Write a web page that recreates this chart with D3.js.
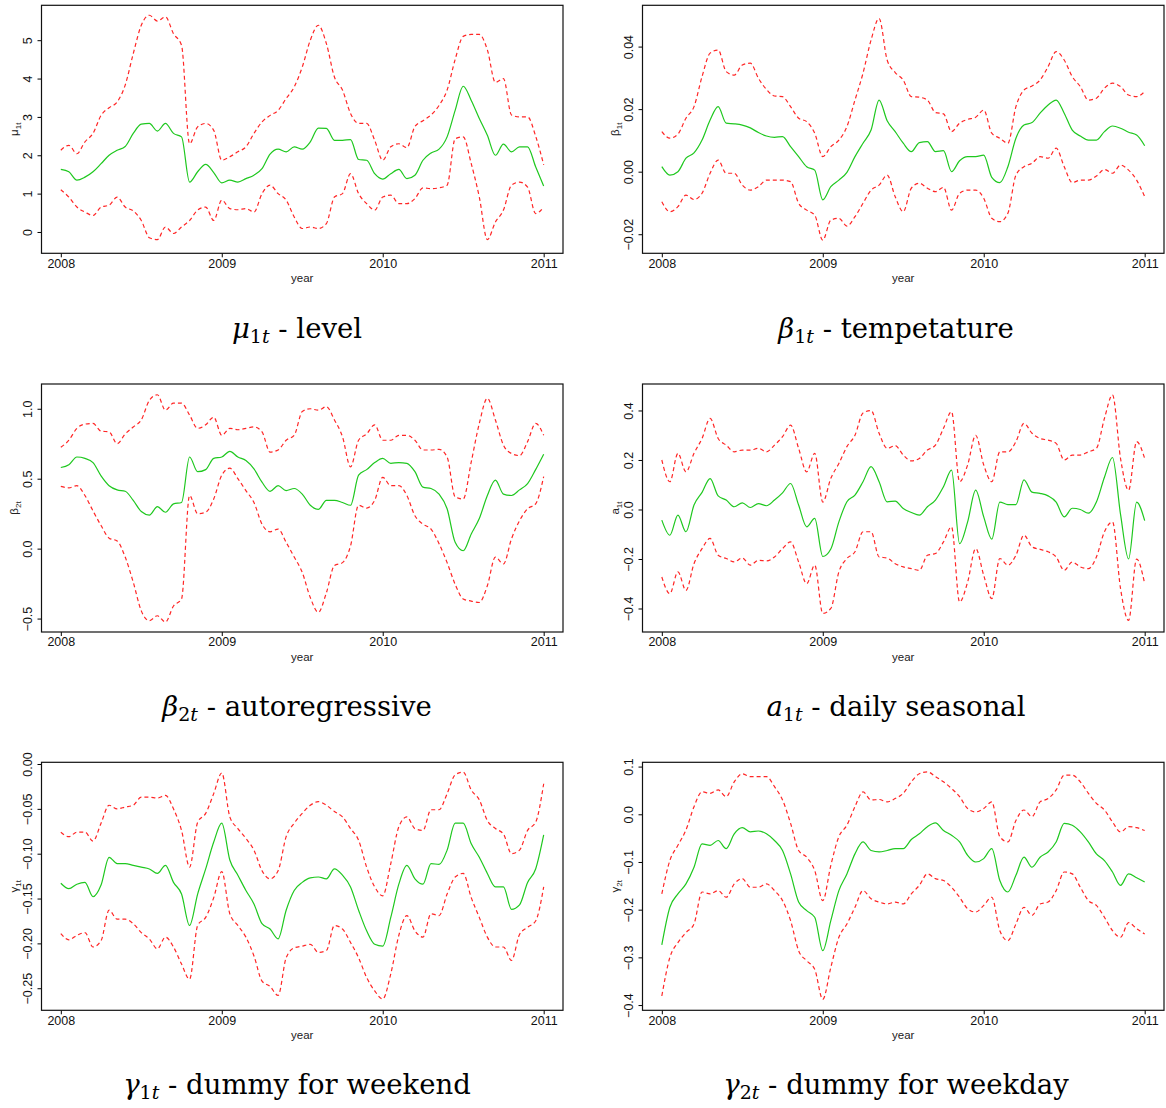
<!DOCTYPE html>
<html>
<head>
<meta charset="utf-8">
<script src="https://cdn.jsdelivr.net/npm/d3@7"></script>
<style>
  body { margin: 0; background: #fff; }
  svg { display: block; }
</style>
</head>
<body>
<svg id="fig" width="1166" height="1108"></svg>
<script>
// time grid shared by every panel (step of 0.05 year)
const years = [2008.00,2008.05,2008.10,2008.15,2008.20,2008.25,2008.30,2008.35,2008.40,2008.45,
  2008.50,2008.55,2008.60,2008.65,2008.70,2008.75,2008.80,2008.85,2008.90,2008.95,
  2009.00,2009.05,2009.10,2009.15,2009.20,2009.25,2009.30,2009.35,2009.40,2009.45,
  2009.50,2009.55,2009.60,2009.65,2009.70,2009.75,2009.80,2009.85,2009.90,2009.95,
  2010.00,2010.05,2010.10,2010.15,2010.20,2010.25,2010.30,2010.35,2010.40,2010.45,
  2010.50,2010.55,2010.60,2010.65,2010.70,2010.75,2010.80,2010.85,2010.90,2010.95,2011.00];
const yearTicks = [2008, 2009, 2010, 2011];

// mu_1t - level
const muMean = [1.63,1.57,1.35,1.43,1.57,1.78,2.00,2.13,2.23,2.57,2.81,2.83,2.63,2.83,2.57,2.48,
  1.30,1.57,1.76,1.55,1.28,1.35,1.30,1.39,1.48,1.65,2.03,2.16,2.09,2.22,2.16,2.35,
  2.71,2.70,2.39,2.39,2.41,1.89,1.87,1.52,1.38,1.52,1.63,1.39,1.48,1.87,2.06,2.16,
  2.48,3.17,3.80,3.43,2.96,2.52,2.00,2.29,2.09,2.22,2.22,1.70,1.20];
const muUpper = [2.13,2.26,2.04,2.35,2.57,3.04,3.24,3.39,3.83,4.65,5.39,5.65,5.50,5.61,5.17,4.87,
  2.30,2.74,2.83,2.65,1.87,1.96,2.09,2.22,2.57,2.87,3.04,3.17,3.48,3.78,4.30,5.00,
  5.39,4.91,4.04,3.70,3.09,2.83,2.83,2.39,1.87,2.22,2.30,2.20,2.75,2.90,3.05,3.30,
  3.70,4.50,5.10,5.15,5.15,4.75,3.90,4.00,3.05,3.00,3.00,2.50,1.75];
const muLower = [1.10,0.91,0.65,0.52,0.43,0.65,0.70,0.91,0.65,0.55,0.30,-0.15,-0.20,0.13,-0.04,0.13,
  0.30,0.57,0.65,0.30,0.83,0.61,0.58,0.61,0.52,1.00,1.22,1.00,0.83,0.39,0.09,0.13,
  0.09,0.22,0.91,1.00,1.52,1.00,0.74,0.57,0.91,0.96,0.74,0.74,0.87,1.15,1.13,1.15,
  1.22,2.43,2.48,1.78,0.91,-0.20,0.26,0.57,1.22,1.30,1.17,0.48,0.65];
const muTicks = [0, 1, 2, 3, 4, 5];

// beta_1t - temperature
const b1Mean = [0.0016,-0.0011,0.0000,0.0043,0.0060,0.0101,0.0165,0.0208,0.0155,0.0153,0.0149,0.0140,0.0125,0.0114,0.0110,0.0112,
  0.0080,0.0048,0.0016,0.0005,-0.0090,-0.0048,-0.0027,-0.0002,0.0048,0.0091,0.0133,0.0229,0.0163,0.0128,0.0091,0.0064,
  0.0093,0.0096,0.0064,0.0067,0.0000,0.0035,0.0048,0.0048,0.0053,-0.0018,-0.0035,0.0016,0.0107,0.0149,0.0157,0.0187,
  0.0213,0.0229,0.0187,0.0133,0.0114,0.0101,0.0101,0.0128,0.0146,0.0139,0.0126,0.0117,0.0083];
const b1Upper = [0.0128,0.0107,0.0120,0.0171,0.0208,0.0304,0.0379,0.0389,0.0320,0.0309,0.0341,0.0347,0.0299,0.0263,0.0242,0.0240,
  0.0208,0.0171,0.0160,0.0123,0.0048,0.0080,0.0101,0.0144,0.0229,0.0315,0.0421,0.0490,0.0357,0.0317,0.0293,0.0240,
  0.0238,0.0229,0.0189,0.0185,0.0128,0.0155,0.0167,0.0174,0.0197,0.0123,0.0107,0.0091,0.0208,0.0261,0.0274,0.0293,
  0.0336,0.0384,0.0357,0.0304,0.0272,0.0229,0.0235,0.0267,0.0283,0.0272,0.0245,0.0240,0.0256];
const b1Lower = [-0.0096,-0.0128,-0.0112,-0.0075,-0.0089,-0.0069,-0.0005,0.0037,-0.0005,-0.0005,-0.0043,-0.0059,-0.0048,-0.0027,-0.0027,-0.0027,
  -0.0032,-0.0101,-0.0123,-0.0139,-0.0219,-0.0155,-0.0149,-0.0174,-0.0144,-0.0101,-0.0059,-0.0043,-0.0011,-0.0080,-0.0128,-0.0053,
  -0.0037,-0.0053,-0.0064,-0.0050,-0.0123,-0.0069,-0.0059,-0.0059,-0.0085,-0.0149,-0.0160,-0.0133,-0.0011,0.0016,0.0027,0.0048,
  0.0043,0.0075,0.0016,-0.0035,-0.0027,-0.0027,-0.0014,0.0007,-0.0005,0.0021,0.0005,-0.0027,-0.0080];
const b1Ticks = [-0.02, 0, 0.02, 0.04];

// beta_2t - autoregressive
const b2Mean = [0.58,0.60,0.655,0.645,0.615,0.52,0.45,0.42,0.41,0.345,0.265,0.24,0.30,0.26,0.32,0.33,
  0.655,0.55,0.565,0.645,0.655,0.695,0.655,0.63,0.57,0.475,0.41,0.45,0.415,0.43,0.39,0.31,
  0.28,0.345,0.345,0.33,0.31,0.525,0.565,0.615,0.645,0.61,0.615,0.61,0.55,0.44,0.43,0.39,
  0.285,0.045,-0.015,0.105,0.215,0.38,0.49,0.39,0.38,0.42,0.465,0.565,0.675];
const b2Upper = [0.725,0.775,0.86,0.89,0.895,0.84,0.835,0.75,0.82,0.87,0.92,1.06,1.10,0.99,1.04,1.04,
  0.955,0.86,0.885,0.94,0.81,0.86,0.85,0.86,0.87,0.835,0.69,0.705,0.775,0.81,0.98,1.00,
  0.99,1.015,0.92,0.80,0.585,0.775,0.82,0.885,0.775,0.775,0.81,0.81,0.775,0.705,0.705,0.71,
  0.655,0.37,0.355,0.62,0.895,1.075,0.92,0.74,0.68,0.665,0.765,0.895,0.81];
const b2Lower = [0.445,0.435,0.45,0.38,0.27,0.165,0.075,0.055,-0.06,-0.24,-0.445,-0.515,-0.48,-0.525,-0.41,-0.36,
  0.38,0.25,0.26,0.355,0.525,0.575,0.50,0.415,0.33,0.175,0.12,0.14,0.045,-0.06,-0.17,-0.35,
  -0.455,-0.315,-0.12,-0.10,0.02,0.31,0.29,0.345,0.51,0.45,0.45,0.38,0.235,0.175,0.14,0.035,
  -0.10,-0.255,-0.36,-0.375,-0.385,-0.265,-0.06,-0.11,0.07,0.20,0.285,0.32,0.515];
const b2Ticks = [-0.5, 0, 0.5, 1.0];

// a_1t - daily seasonal
const a1Mean = [-0.043,-0.104,-0.023,-0.090,0.018,0.069,0.125,0.055,0.038,0.011,0.027,0.008,0.024,0.015,0.038,0.067,
  0.105,0.018,-0.070,-0.036,-0.190,-0.160,-0.050,0.031,0.058,0.112,0.173,0.112,0.031,0.034,0.004,-0.012,
  -0.023,0.011,0.038,0.092,0.159,-0.138,-0.050,0.078,-0.030,-0.120,0.030,0.020,0.020,0.120,0.070,0.065,
  0.055,0.030,-0.030,0.005,0.000,-0.015,0.030,0.130,0.210,-0.020,-0.200,0.030,-0.045];
const a1Upper = [0.200,0.112,0.227,0.152,0.227,0.287,0.368,0.287,0.260,0.233,0.240,0.240,0.247,0.233,0.260,0.294,
  0.341,0.247,0.152,0.227,0.030,0.126,0.186,0.254,0.300,0.390,0.400,0.308,0.247,0.258,0.220,0.196,
  0.206,0.240,0.260,0.328,0.395,0.112,0.180,0.300,0.180,0.112,0.233,0.233,0.274,0.348,0.308,0.287,
  0.280,0.267,0.200,0.220,0.220,0.233,0.247,0.368,0.463,0.206,0.078,0.274,0.206];
const a1Lower = [-0.273,-0.340,-0.252,-0.327,-0.219,-0.158,-0.117,-0.185,-0.198,-0.212,-0.196,-0.225,-0.205,-0.208,-0.192,-0.158,
  -0.131,-0.212,-0.300,-0.225,-0.420,-0.400,-0.252,-0.198,-0.171,-0.090,-0.090,-0.192,-0.196,-0.219,-0.232,-0.239,
  -0.246,-0.185,-0.178,-0.131,-0.070,-0.374,-0.293,-0.158,-0.266,-0.360,-0.198,-0.225,-0.185,-0.104,-0.151,-0.161,
  -0.171,-0.192,-0.246,-0.212,-0.232,-0.239,-0.192,-0.090,-0.050,-0.320,-0.448,-0.200,-0.300];
const a1Ticks = [-0.4, -0.2, 0, 0.2, 0.4];

// gamma_1t - dummy for weekend
const g1Mean = [-0.133,-0.139,-0.134,-0.132,-0.148,-0.135,-0.104,-0.111,-0.111,-0.113,-0.115,-0.117,-0.122,-0.113,-0.132,-0.145,
  -0.180,-0.145,-0.117,-0.087,-0.066,-0.107,-0.124,-0.141,-0.156,-0.178,-0.184,-0.195,-0.163,-0.141,-0.132,-0.127,
  -0.126,-0.128,-0.117,-0.124,-0.137,-0.163,-0.186,-0.201,-0.203,-0.171,-0.134,-0.113,-0.128,-0.134,-0.111,-0.112,
  -0.096,-0.066,-0.066,-0.089,-0.104,-0.122,-0.137,-0.137,-0.162,-0.157,-0.132,-0.117,-0.079];
const g1Upper = [-0.076,-0.081,-0.076,-0.076,-0.086,-0.066,-0.046,-0.050,-0.048,-0.046,-0.037,-0.037,-0.038,-0.035,-0.050,-0.074,
  -0.115,-0.065,-0.055,-0.033,-0.010,-0.059,-0.072,-0.083,-0.096,-0.119,-0.128,-0.119,-0.081,-0.066,-0.055,-0.046,
  -0.042,-0.046,-0.053,-0.059,-0.072,-0.085,-0.115,-0.137,-0.147,-0.111,-0.070,-0.059,-0.072,-0.074,-0.051,-0.051,
  -0.033,-0.012,-0.009,-0.029,-0.040,-0.063,-0.072,-0.078,-0.100,-0.096,-0.074,-0.065,-0.022];
const g1Lower = [-0.189,-0.196,-0.191,-0.188,-0.204,-0.197,-0.163,-0.173,-0.173,-0.178,-0.188,-0.195,-0.206,-0.193,-0.204,-0.223,
  -0.240,-0.180,-0.171,-0.149,-0.120,-0.167,-0.180,-0.193,-0.214,-0.242,-0.248,-0.258,-0.216,-0.205,-0.203,-0.201,
  -0.210,-0.208,-0.180,-0.184,-0.199,-0.216,-0.238,-0.253,-0.262,-0.234,-0.191,-0.169,-0.186,-0.193,-0.167,-0.169,
  -0.145,-0.126,-0.122,-0.149,-0.171,-0.193,-0.204,-0.204,-0.219,-0.190,-0.182,-0.175,-0.137];
const g1Ticks = [-0.25, -0.20, -0.15, -0.10, -0.05, 0];

// gamma_2t - dummy for weekday
const g2Mean = [-0.274,-0.195,-0.167,-0.146,-0.111,-0.062,-0.065,-0.055,-0.072,-0.041,-0.028,-0.037,-0.035,-0.041,-0.055,-0.076,
  -0.125,-0.184,-0.202,-0.216,-0.286,-0.223,-0.160,-0.125,-0.083,-0.058,-0.076,-0.079,-0.076,-0.072,-0.072,-0.053,
  -0.041,-0.026,-0.018,-0.034,-0.044,-0.058,-0.086,-0.100,-0.093,-0.072,-0.139,-0.163,-0.128,-0.090,-0.111,-0.090,
  -0.079,-0.058,-0.019,-0.023,-0.037,-0.058,-0.083,-0.097,-0.121,-0.149,-0.125,-0.133,-0.142];
const g2Upper = [-0.167,-0.097,-0.065,-0.033,0.016,0.047,0.044,0.051,0.037,0.068,0.085,0.079,0.079,0.079,0.058,0.030,
  -0.019,-0.076,-0.090,-0.118,-0.181,-0.107,-0.047,-0.023,0.016,0.047,0.030,0.031,0.026,0.033,0.044,0.068,
  0.085,0.089,0.079,0.068,0.054,0.037,0.012,0.005,0.012,0.026,-0.047,-0.058,-0.013,0.009,-0.005,0.026,
  0.033,0.051,0.082,0.082,0.068,0.044,0.023,0.009,-0.016,-0.037,-0.026,-0.028,-0.034];
const g2Lower = [-0.381,-0.300,-0.269,-0.248,-0.230,-0.163,-0.167,-0.160,-0.174,-0.146,-0.135,-0.153,-0.153,-0.146,-0.160,-0.181,
  -0.223,-0.286,-0.307,-0.325,-0.388,-0.321,-0.258,-0.230,-0.195,-0.160,-0.177,-0.184,-0.188,-0.184,-0.188,-0.167,
  -0.149,-0.125,-0.135,-0.139,-0.153,-0.174,-0.198,-0.205,-0.191,-0.174,-0.244,-0.265,-0.230,-0.195,-0.212,-0.188,
  -0.184,-0.160,-0.121,-0.125,-0.153,-0.181,-0.191,-0.216,-0.244,-0.258,-0.227,-0.240,-0.251];
const g2Ticks = [-0.4, -0.3, -0.2, -0.1, 0, 0.1];

const panels = [
  { mean: muMean, upper: muUpper, lower: muLower, ticks: muTicks, fmt: d3.format('d'),   domain: [-0.556, 5.91],   sym: 'μ', sub: '1t', text: ' - level' },
  { mean: b1Mean, upper: b1Upper, lower: b1Lower, ticks: b1Ticks, fmt: d3.format('.2f'), domain: [-0.0261, 0.0532], sym: 'β', sub: '1t', text: ' - tempetature' },
  { mean: b2Mean, upper: b2Upper, lower: b2Lower, ticks: b2Ticks, fmt: d3.format('.1f'), domain: [-0.596, 1.177],  sym: 'β', sub: '2t', text: ' - autoregressive' },
  { mean: a1Mean, upper: a1Upper, lower: a1Lower, ticks: a1Ticks, fmt: d3.format('.1f'), domain: [-0.495, 0.507],  sym: 'a', sub: '1t', text: ' - daily seasonal' },
  { mean: g1Mean, upper: g1Upper, lower: g1Lower, ticks: g1Ticks, fmt: d3.format('.2f'), domain: [-0.2746, 0.0019], sym: 'γ', sub: '1t', text: ' - dummy for weekend' },
  { mean: g2Mean, upper: g2Upper, lower: g2Lower, ticks: g2Ticks, fmt: d3.format('.1f'), domain: [-0.411, 0.109],  sym: 'γ', sub: '2t', text: ' - dummy for weekday' }
];

// layout
const colLeft = [41.5, 642.5];
const rowTop = [5.3, 384, 762.3];
const plotW = 521.5, plotH = 248;
const captionX = [297, 896];
const captionY = [338, 716, 1094];
const sans = '"Liberation Sans", Arial, Helvetica, sans-serif';
const serif = '"DejaVu Serif", "Liberation Serif", serif';
const green = '#1fc81f', red = '#ff2626';

const svg = d3.select('#fig');
svg.append('rect').attr('width', 1166).attr('height', 1108).attr('fill', '#fff');

panels.forEach((p, i) => {
  const col = i % 2, row = Math.floor(i / 2);
  const g = svg.append('g').attr('transform', `translate(${colLeft[col]},${rowTop[row]})`);

  const x = d3.scaleLinear().domain([2007.88, 2011.12]).range([0, plotW]);
  const y = d3.scaleLinear().domain(p.domain).range([plotH, 0]);

  g.append('clipPath').attr('id', 'clip' + i)
    .append('rect').attr('width', plotW).attr('height', plotH);

  const line = d3.line()
    .x((d, k) => x(years[k]))
    .y(d => y(d))
    .curve(d3.curveMonotoneX);

  const plot = g.append('g').attr('clip-path', `url(#clip${i})`);
  [p.upper, p.lower].forEach(s => {
    plot.append('path').attr('d', line(s))
      .attr('fill', 'none').attr('stroke', red)
      .attr('stroke-width', 1.2).attr('stroke-dasharray', '4,3');
  });
  plot.append('path').attr('d', line(p.mean))
    .attr('fill', 'none').attr('stroke', green).attr('stroke-width', 1.2);

  // x axis
  const xa = g.append('g').attr('transform', `translate(0,${plotH})`)
    .call(d3.axisBottom(x).tickValues(yearTicks).tickSize(4).tickPadding(1.5).tickFormat(d3.format('d')));
  xa.select('.domain').remove();
  xa.selectAll('text').style('font-family', sans).style('font-size', '12.5px').attr('fill', '#111');

  // y axis, labels parallel to the axis as in R
  const ya = g.append('g')
    .call(d3.axisLeft(y).tickValues(p.ticks).tickSize(4).tickFormat(p.fmt));
  ya.select('.domain').remove();
  ya.selectAll('text')
    .attr('x', null).attr('dy', null)
    .attr('text-anchor', 'middle')
    .attr('transform', 'translate(-9.5,0) rotate(-90)')
    .style('font-family', sans).style('font-size', '12.5px').attr('fill', '#111');

  // box
  g.append('rect').attr('width', plotW).attr('height', plotH)
    .attr('fill', 'none').attr('stroke', '#111').attr('stroke-width', 1.2);

  // axis titles
  g.append('text').attr('x', plotW / 2).attr('y', plotH + 29)
    .attr('text-anchor', 'middle')
    .style('font-family', sans).style('font-size', '11.5px').attr('fill', '#222')
    .text('year');

  const yt = g.append('text')
    .attr('transform', `translate(-23.5,${plotH / 2}) rotate(-90)`)
    .attr('text-anchor', 'middle')
    .style('font-family', sans).style('font-size', '11.5px').attr('fill', '#222');
  yt.append('tspan').text(p.sym);
  yt.append('tspan').attr('dy', 2.5).style('font-size', '8px').text(p.sub);

  // caption under the panel
  const cap = svg.append('text')
    .attr('x', captionX[col]).attr('y', captionY[row])
    .attr('text-anchor', 'middle')
    .style('font-family', serif).style('font-size', '27.5px')
    .style('font-weight', 300).attr('fill', '#000');
  cap.append('tspan').style('font-style', 'italic').text(p.sym);
  cap.append('tspan').attr('dy', 5).style('font-size', '19px').text(p.sub[0]);
  cap.append('tspan').style('font-size', '19px').style('font-style', 'italic').text(p.sub[1]);
  cap.append('tspan').attr('dy', -5).text(p.text);
});
</script>
</body>
</html>
